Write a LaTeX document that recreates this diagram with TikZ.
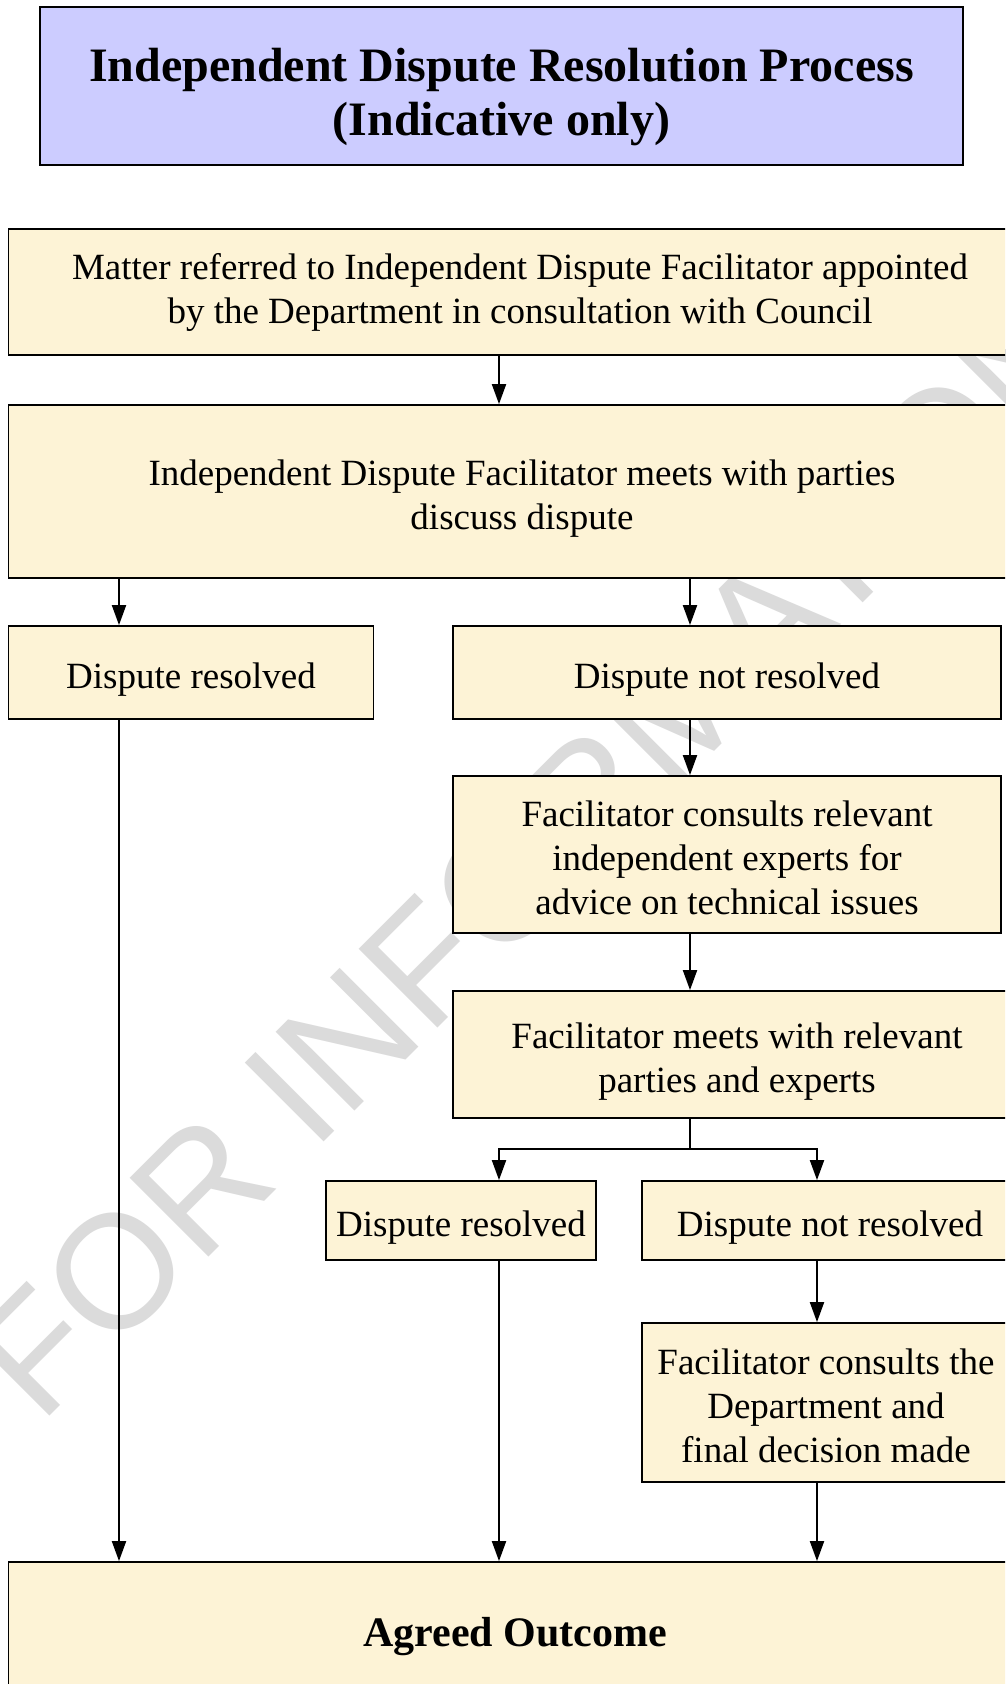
\documentclass[tikz,border=0pt]{standalone}
\usepackage{fontspec}
\setmainfont{Liberation Serif}
\setsansfont{Liberation Sans}
\usepackage{tikz}
\usetikzlibrary{arrows.meta}
\definecolor{parch}{RGB}{253,243,214}
\definecolor{lav}{RGB}{204,204,255}

\begin{document}
\begin{tikzpicture}[x=1pt,y=-1pt,
		box/.style={draw=black,line width=1.8pt,fill=parch,inner sep=0pt,align=center,font=\fontsize{37}{44}\selectfont},
		lift/.style={execute at begin node={\rule{0pt}{#1}}},
		arr/.style={line width=2pt,-{Triangle[length=20pt,width=14pt]}}]
		\useasboundingbox (0,0) rectangle (1005,1684);
		\clip (0,0) rectangle (1005,1684);
		\fill[white] (0,0) rectangle (1005,1684);
		\node[anchor=base west,rotate=45,inner sep=0pt,text=black!14,font=\sffamily\fontsize{162}{162}\selectfont] (wm) at (40,1426) {FOR INFORMATION ONLY};
		\node[box,fill=lav,line width=2pt,lift=109pt,font=\bfseries\fontsize{48}{54}\selectfont,minimum width=923pt,minimum height=157.5pt] (title) at (501.5,86) {Independent Dispute Resolution Process\\(Indicative only)};
		\node[box,minimum width=1023pt,minimum height=126pt] (refer) at (520,292) {Matter referred to Independent Dispute Facilitator appointed\\by the Department in consultation with Council};
		\node[box,lift=84.5pt,minimum width=1027pt,minimum height=173pt] (meet) at (522,491.5) {Independent Dispute Facilitator meets with parties\\discuss dispute};
		\node[box,lift=40pt,minimum width=365pt,minimum height=93pt] (resA) at (191,672.5) {Dispute resolved};
		\node[box,lift=40pt,minimum width=548pt,minimum height=93pt] (notA) at (727,672.5) {Dispute not resolved};
		\node[box,lift=120pt,minimum width=548pt,minimum height=157pt] (consult) at (727,854.5) {Facilitator consults relevant\\independent experts for\\advice on technical issues};
		\node[box,lift=84.5pt,minimum width=568pt,minimum height=127pt] (meetexp) at (737,1054.5) {Facilitator meets with relevant\\parties and experts};
		\node[box,lift=40pt,minimum width=270pt,minimum height=79pt] (resB) at (461,1220.5) {Dispute resolved};
		\node[box,lift=40pt,minimum width=376pt,minimum height=79pt] (notB) at (830,1220.5) {Dispute not resolved};
		\node[box,lift=120pt,minimum width=368pt,minimum height=159pt] (final) at (826,1402.5) {Facilitator consults the\\Department and\\final decision made};
		\node[box,lift=40pt,font=\bfseries\fontsize{42}{48}\selectfont,minimum width=1013pt,minimum height=138pt] (outcome) at (515,1631) {Agreed Outcome};
		\coordinate (colA) at (119,0);
		\coordinate (colB) at (499,0);
		\coordinate (colC) at (690,0);
		\coordinate (colD) at (817,0);
		\coordinate (split) at (690,1149);
		\draw[arr] (refer.south -| colB) -- (meet.north -| colB);
		\draw[arr] (meet.south -| colA) -- (resA.north -| colA);
		\draw[arr] (meet.south -| colC) -- (notA.north -| colC);
		\draw[arr] (notA.south -| colC) -- (consult.north -| colC);
		\draw[arr] (consult.south -| colC) -- (meetexp.north -| colC);
		\draw[arr] (meetexp.south -| colC) -- (split) -| (resB.north -| colB);
		\draw[arr] (split) -| (notB.north -| colD);
		\draw[arr] (notB.south -| colD) -- (final.north -| colD);
		\draw[arr] (resA.south -| colA) -- (outcome.north -| colA);
		\draw[arr] (resB.south -| colB) -- (outcome.north -| colB);
		\draw[arr] (final.south -| colD) -- (outcome.north -| colD);
	\end{tikzpicture}
\end{document}
